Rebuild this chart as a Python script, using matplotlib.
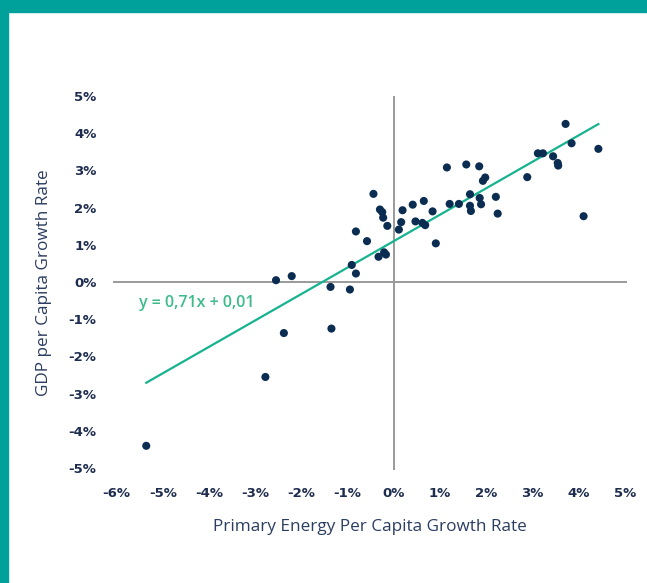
import matplotlib
matplotlib.use("Agg")
import matplotlib.pyplot as plt
from matplotlib.patches import Rectangle
import numpy as np

# ── data (percent) ─────────────────────────────────────────
energy_growth = [
    -5.36, -2.78, -2.38, -2.55, -2.21, -1.35,
    -1.37, -0.95, -0.91, -0.82, -0.82, -0.58, -0.44, -0.33, -0.21, -0.17,
    -0.30, -0.25, -0.23, -0.14, 0.11, 0.16, 0.19, 0.41, 0.47, 0.62,
    0.68, 0.65, 0.84, 0.91, 1.15, 1.21, 1.41, 1.57, 1.65, 1.65,
    1.67, 1.85, 1.86, 1.89, 1.93, 1.98, 2.21, 2.25, 2.89, 3.12,
    3.23, 3.45, 3.55, 3.56, 3.72, 3.85, 4.11, 4.43,
]
gdp_growth = [
    -4.40, -2.55, -1.37, 0.05, 0.16, -1.25,
    -0.13, -0.20, 0.46, 0.23, 1.36, 1.10, 2.37, 0.68, 0.80, 0.74,
    1.95, 1.88, 1.73, 1.51, 1.41, 1.61, 1.93, 2.08, 1.63, 1.59,
    1.53, 2.18, 1.90, 1.04, 3.08, 2.10, 2.10, 3.16, 2.36, 2.05,
    1.91, 3.11, 2.26, 2.09, 2.72, 2.81, 2.29, 1.84, 2.82, 3.46,
    3.46, 3.38, 3.20, 3.13, 4.25, 3.73, 1.77, 3.58,
]
fit_slope = 0.71
fit_intercept = 1.1  # percent (0.011)
x_ticks = [-6, -5, -4, -3, -2, -1, 0, 1, 2, 3, 4, 5]
y_ticks = [-5, -4, -3, -2, -1, 0, 1, 2, 3, 4, 5]

TEAL = "#00a19b"
NAVY = "#0b2d52"
LABEL = "#1e2d4f"
GREEN = "#17b38f"

fig = plt.figure(figsize=(6.47, 5.83), dpi=100)
fig.patches.append(Rectangle((0, 1 - 12 / 583), 1, 12 / 583, transform=fig.transFigure,
                             color=TEAL, zorder=0))
fig.patches.append(Rectangle((0, 0), 8 / 647, 1, transform=fig.transFigure,
                             color=TEAL, zorder=0))

ax = fig.add_axes([113 / 647, 1 - 470 / 583, 514 / 647, 374 / 583])
ax.set_xlim(-6.08, 5.05)
ax.set_ylim(-5.05, 5.0)
for s in ax.spines.values():
    s.set_visible(False)

ax.axhline(0, color="#9a9a9a", linewidth=1.4, zorder=1)
ax.axvline(0, color="#9a9a9a", linewidth=1.4, zorder=1)

xs = np.array(energy_growth)
fit_x = np.array([xs.min(), xs.max()])
ax.plot(fit_x, fit_slope * fit_x + fit_intercept, color=GREEN, linewidth=1.6, zorder=2)
ax.scatter(energy_growth, gdp_growth, s=34, color=NAVY, edgecolors="none", zorder=3)

ax.text(-5.52, -0.55, "y = 0,71x + 0,01", color="#3dbb8a", fontsize=11.5,
        family="Open Sans", fontweight="semibold", va="center", ha="left")

ax.set_xticks(x_ticks)
ax.set_xticklabels([f"{t}%" for t in x_ticks])
ax.set_yticks(y_ticks)
ax.set_yticklabels([f"{t}%" for t in y_ticks])
ax.tick_params(length=0, labelsize=9.5, labelcolor=LABEL, pad=12)
for lab in ax.get_xticklabels() + ax.get_yticklabels():
    lab.set_fontweight("bold")
    lab.set_family("DejaVu Sans")

ax.set_xlabel("Primary Energy Per Capita Growth Rate", fontsize=12.3, color="#2b3d60",
              family="Open Sans", labelpad=14)
ax.set_ylabel("GDP per Capita Growth Rate", fontsize=12.3, color="#2b3d60",
              family="Open Sans", labelpad=12)

fig.savefig("out.png", dpi=100)
